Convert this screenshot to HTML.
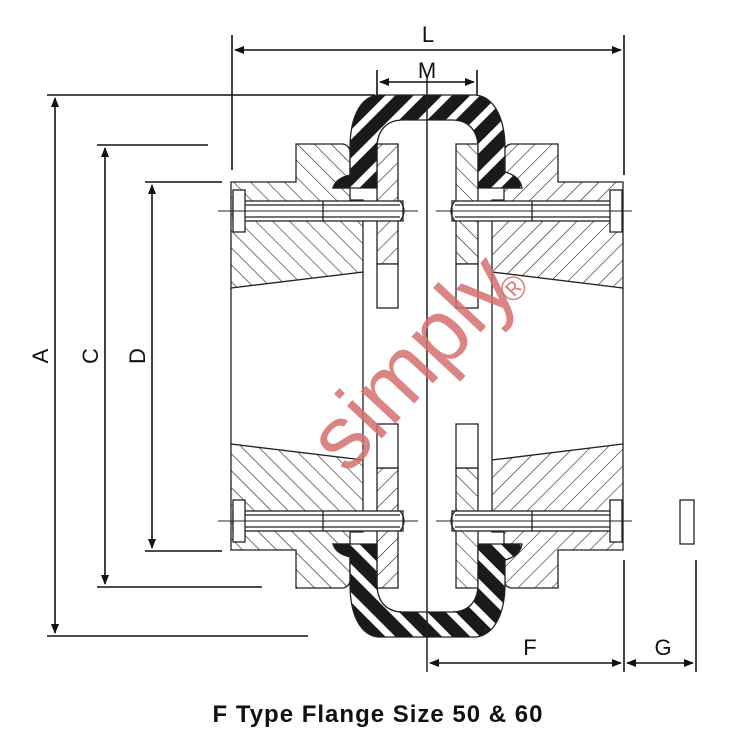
<!DOCTYPE html>
<html><head><meta charset="utf-8"><style>
html,body{margin:0;padding:0;background:#fff;}
svg{display:block;}
</style></head><body>
<svg width="756" height="744" viewBox="0 0 756 744" xmlns="http://www.w3.org/2000/svg" font-family="Liberation Sans, sans-serif">
<defs>
<pattern id="bs" patternUnits="userSpaceOnUse" width="12" height="12" patternTransform="rotate(-45)">
<rect width="12" height="12" fill="#fff"/><line x1="0" y1="0" x2="0" y2="12" stroke="#222" stroke-width="1.2"/></pattern>
<pattern id="fs" patternUnits="userSpaceOnUse" width="12" height="12" patternTransform="rotate(45)">
<rect width="12" height="12" fill="#fff"/><line x1="0" y1="0" x2="0" y2="12" stroke="#222" stroke-width="1.2"/></pattern>
<pattern id="tire" patternUnits="userSpaceOnUse" width="20" height="20" patternTransform="rotate(45)">
<rect width="20" height="20" fill="#1a1a1a"/><rect x="0" y="0" width="7" height="20" fill="#fff"/></pattern>
<marker id="ar" markerWidth="10" markerHeight="8" refX="9" refY="4" orient="auto" markerUnits="userSpaceOnUse"><path d="M0,0 L10,4 L0,8 Z" fill="#111"/></marker>
<marker id="al" markerWidth="10" markerHeight="8" refX="1" refY="4" orient="auto" markerUnits="userSpaceOnUse"><path d="M10,0 L0,4 L10,8 Z" fill="#111"/></marker>
<path id="lhub" d="M231,182 L296,182 L296,144 L343,144 Q352,146 350,158 L350,176 Q336,178 333,188 L350,188 L350,200 L363,200 L363,272 L231,288 Z"/>
<path id="rhub" d="M623,182 L558,182 L558,144 L511,144 Q502,146 504,158 L504,176 Q518,178 521,188 L504,188 L504,200 L492,200 L492,272 L623,288 Z"/>
<g id="common" stroke="#222" stroke-width="1.3">
<rect x="377" y="264" width="21" height="44" fill="#fff"/>
<rect x="456" y="264" width="22" height="44" fill="#fff"/>
<path d="M378,95 L476,95 C494,97 505,118 505,148 L505,172 Q520,176 522,188 L478,188 L478,148 C478,130 468,120 452,120 L403,120 C387,120 377,130 377,148 L377,188 L333,188 Q336,178 350,175 L350,148 C350,118 360,97 378,95 Z" fill="url(#tire)"/>
<rect x="233" y="201" width="170" height="20" fill="#fff"/>
<line x1="245" y1="205" x2="400" y2="205"/><line x1="245" y1="217" x2="400" y2="217"/>
<line x1="323" y1="201" x2="323" y2="221"/>
<path d="M400,201 Q408,211 400,221" fill="none"/>
<rect x="233" y="190" width="12" height="42" fill="#fff"/>
<rect x="452" y="201" width="170" height="20" fill="#fff"/>
<line x1="455" y1="205" x2="610" y2="205"/><line x1="455" y1="217" x2="610" y2="217"/>
<line x1="532" y1="201" x2="532" y2="221"/>
<path d="M455,201 Q447,211 455,221" fill="none"/>
<rect x="610" y="190" width="12" height="42" fill="#fff"/>
<line x1="218" y1="211" x2="418" y2="211" stroke-width="1"/>
<line x1="436" y1="211" x2="632" y2="211" stroke-width="1"/>
</g>
</defs>
<g stroke="#222" stroke-width="1.3">
<use href="#lhub" fill="url(#bs)"/>
<use href="#rhub" fill="url(#fs)"/>
<rect x="377" y="144" width="21" height="120" fill="url(#fs)"/>
<rect x="456" y="144" width="22" height="120" fill="url(#bs)"/>
</g>
<use href="#common"/>
<g transform="matrix(1,0,0,-1,0,732)">
<g stroke="#222" stroke-width="1.3">
<use href="#lhub" fill="url(#fs)"/>
<use href="#rhub" fill="url(#bs)"/>
<rect x="377" y="144" width="21" height="120" fill="url(#bs)"/>
<rect x="456" y="144" width="22" height="120" fill="url(#fs)"/>
</g>
<use href="#common"/>
</g>
<g stroke="#222" stroke-width="1.3" fill="none">
<line x1="363" y1="272" x2="363" y2="460"/><line x1="492" y1="272" x2="492" y2="460"/>
<line x1="231" y1="288" x2="231" y2="444"/><line x1="623" y1="288" x2="623" y2="444"/>
<line x1="427" y1="78" x2="427" y2="672" stroke-width="1.5"/>
</g>
<text x="412" y="392" font-size="90" fill="#d46e6e" fill-opacity="0.85" text-anchor="middle" transform="rotate(-47 412 362)">simply</text>
<text x="513" y="300" font-size="34" fill="#d46e6e" fill-opacity="0.85" text-anchor="middle" transform="rotate(-47 513 288)">®</text>
<g stroke="#111" stroke-width="1.6" fill="none">
<line x1="232" y1="35" x2="232" y2="170"/><line x1="624" y1="35" x2="624" y2="175"/>
<line x1="235" y1="50" x2="621" y2="50" marker-start="url(#al)" marker-end="url(#ar)"/>
<line x1="377" y1="70" x2="377" y2="95"/><line x1="477" y1="70" x2="477" y2="95"/>
<line x1="380" y1="82" x2="474" y2="82" marker-start="url(#al)" marker-end="url(#ar)"/>
<line x1="47" y1="95" x2="375" y2="95"/><line x1="47" y1="636" x2="308" y2="636"/>
<line x1="55" y1="98" x2="55" y2="633" marker-start="url(#al)" marker-end="url(#ar)"/>
<line x1="97" y1="145" x2="208" y2="145"/><line x1="97" y1="587" x2="262" y2="587"/>
<line x1="105" y1="148" x2="105" y2="584" marker-start="url(#al)" marker-end="url(#ar)"/>
<line x1="145" y1="182" x2="222" y2="182"/><line x1="145" y1="551" x2="222" y2="551"/>
<line x1="152" y1="185" x2="152" y2="548" marker-start="url(#al)" marker-end="url(#ar)"/>
<line x1="624" y1="560" x2="624" y2="672"/><line x1="696" y1="560" x2="696" y2="672"/>
<line x1="430" y1="663" x2="621" y2="663" marker-start="url(#al)" marker-end="url(#ar)"/>
<line x1="627" y1="663" x2="693" y2="663" marker-start="url(#al)" marker-end="url(#ar)"/>
<rect x="680" y="500" width="14" height="44" stroke-width="1.2"/>
</g>
<g font-size="22" fill="#111" text-anchor="middle">
<text x="428" y="42">L</text>
<text x="427" y="78">M</text>
<text x="530" y="655">F</text>
<text x="663" y="655">G</text>
<text transform="translate(48,356) rotate(-90)">A</text>
<text transform="translate(98,356) rotate(-90)">C</text>
<text transform="translate(145,356) rotate(-90)">D</text>
</g>
<text x="378" y="722" font-size="24" font-weight="bold" fill="#111" text-anchor="middle" letter-spacing="1">F Type Flange Size 50 &amp; 60</text>
</svg>
</body></html>
